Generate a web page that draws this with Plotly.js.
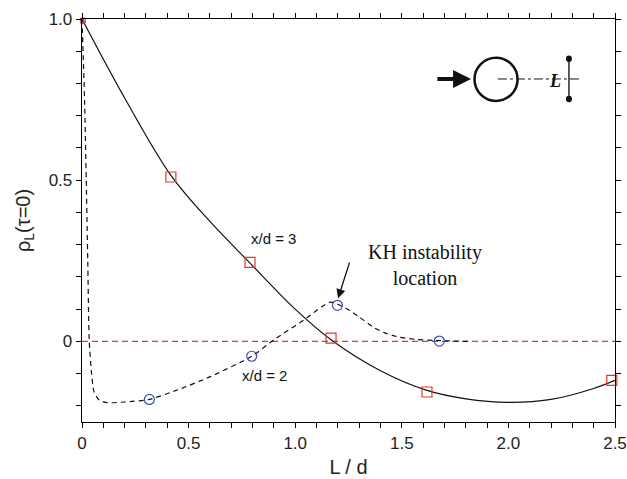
<!DOCTYPE html>
<html>
<head>
<meta charset="utf-8">
<script src="https://cdn.plot.ly/plotly-3.0.1.min.js"></script>
<style>html,body{margin:0;padding:0;background:#fff;}#chart{width:627px;height:479px;}</style>
</head>
<body>
<div id="chart"></div>
<script>
// x/d = 3 : measured points (red squares)
const sq3X = [0.417, 0.788, 1.168, 1.618, 2.485];
const sq3Y = [0.510, 0.245, 0.010, -0.157, -0.121];
// x/d = 2 : measured points (blue circles)
const circ2X = [0.316, 0.796, 1.198, 1.676];
const circ2Y = [-0.180, -0.046, 0.112, 0.001];
// origin point (both series)
const originX = [0.004];
const originY = [0.995];
// x/d = 3 : fitted curve (solid)
const fit3X = [0, 0.2, 0.417, 0.6, 0.788, 1.0, 1.168, 1.4, 1.618, 1.8, 2.0, 2.2, 2.4, 2.5];
const fit3Y = [1.0, 0.755, 0.515, 0.372, 0.243, 0.100, 0.005, -0.091, -0.152, -0.178, -0.189, -0.180, -0.146, -0.121];
// x/d = 2 : fitted curve (dashed)
const fit2X = [0, 0.012, 0.020, 0.027, 0.034, 0.045, 0.056, 0.08, 0.12, 0.20, 0.316, 0.45, 0.60, 0.797, 0.90, 1.04, 1.165, 1.24, 1.30, 1.366, 1.43, 1.49, 1.57, 1.65, 1.81];
const fit2Y = [1.0, 0.75, 0.50, 0.25, 0.0, -0.10, -0.155, -0.182, -0.190, -0.188, -0.180, -0.150, -0.110, -0.046, 0.005, 0.066, 0.122, 0.102, 0.076, 0.044, 0.024, 0.013, 0.006, 0.003, 0.0];
// reference line
const zeroX = [0, 2.5];
const zeroY = [0, 0];
// ticks
const xTickVals = [0,0.1,0.2,0.3,0.4,0.5,0.6,0.7,0.8,0.9,1.0,1.1,1.2,1.3,1.4,1.5,1.6,1.7,1.8,1.9,2.0,2.1,2.2,2.3,2.4,2.5];
const xTickText = ['0','','','','','0.5','','','','','1.0','','','','','1.5','','','','','2.0','','','','','2.5'];
const yTickVals = [-0.2,-0.1,0,0.1,0.2,0.3,0.4,0.5,0.6,0.7,0.8,0.9,1.0];
const yTickText = ['','','0','','','','','0.5','','','','','1.0'];

const RED = '#e0392f';
const BLUE = '#3a4cbc';

const traces = [
  {x: zeroX, y: zeroY, mode: 'lines', line: {color: RED, width: 1.2, dash: '6px,4px'}, hoverinfo: 'skip'},
  {x: fit3X, y: fit3Y, mode: 'lines', line: {color: '#111', width: 1.2, shape: 'spline', smoothing: 1}},
  {x: fit2X, y: fit2Y, mode: 'lines', line: {color: '#111', width: 1.2, dash: '5px,4px', shape: 'spline', smoothing: 0.6}},
  {x: sq3X, y: sq3Y, mode: 'markers', marker: {symbol: 'square-open', size: 10, color: RED, line: {width: 1.2}}, cliponaxis: false},
  {x: circ2X, y: circ2Y, mode: 'markers', marker: {symbol: 'circle-open', size: 10, color: BLUE, line: {width: 1.2}}, cliponaxis: false},
  {x: originX, y: originY, mode: 'markers', marker: {symbol: 'square-open', size: 5, color: RED, line: {width: 1}}, cliponaxis: false},
  {x: originX, y: originY, mode: 'markers', marker: {symbol: 'circle-open', size: 3, color: BLUE, line: {width: 1}}, cliponaxis: false}
];

const axisCommon = {
  showline: true, mirror: 'ticks', linecolor: '#000', linewidth: 1.3,
  ticks: 'outside', ticklen: 5, tickwidth: 1, tickcolor: '#000',
  showgrid: false, zeroline: false,
  tickfont: {family: 'Liberation Sans, Arial, sans-serif', size: 17, color: '#222'},
  tickmode: 'array'
};

const layout = {
  width: 627, height: 479,
  margin: {l: 82, r: 12, t: 19, b: 57},
  paper_bgcolor: '#fff', plot_bgcolor: '#fff',
  showlegend: false,
  xaxis: Object.assign({}, axisCommon, {
    range: [0, 2.5], tickvals: xTickVals, ticktext: xTickText,
    title: {text: 'L / d', font: {family: 'Liberation Sans, Arial, sans-serif', size: 20, color: '#222'}, standoff: 8}
  }),
  yaxis: Object.assign({}, axisCommon, {
    range: [-0.25, 1.0], tickvals: yTickVals, ticktext: yTickText,
    title: {text: 'ρ<sub>L</sub>(τ=0)', font: {family: 'Liberation Sans, Arial, sans-serif', size: 20, color: '#222'}, standoff: 12}
  }),
  annotations: [
    {x: 0.896, y: 0.320, xref: 'x', yref: 'y', text: 'x/d = 3', showarrow: false,
     font: {family: 'Liberation Sans, Arial, sans-serif', size: 15, color: '#111'}},
    {x: 0.858, y: -0.106, xref: 'x', yref: 'y', text: 'x/d = 2', showarrow: false,
     font: {family: 'Liberation Sans, Arial, sans-serif', size: 15, color: '#111'}},
    {x: 1.609, y: 0.236, xref: 'x', yref: 'y', text: 'KH instability<br>location', showarrow: false,
     font: {family: 'Liberation Serif, Times New Roman, serif', size: 20, color: '#111'}},
    {x: 1.201, y: 0.134, xref: 'x', yref: 'y', ax: 1.257, ay: 0.249, axref: 'x', ayref: 'y',
     text: '', showarrow: true, arrowhead: 2, arrowsize: 1.4, arrowwidth: 1.3, arrowcolor: '#111'},
    {x: 1.825, y: 0.814, xref: 'x', yref: 'y', ax: 1.660, ay: 0.814, axref: 'x', ayref: 'y',
     text: '', showarrow: true, arrowhead: 2, arrowsize: 0.9, arrowwidth: 4, arrowcolor: '#111'},
    {x: 2.219, y: 0.808, xref: 'x', yref: 'y', text: '<b><i>L</i></b>', showarrow: false,
     font: {family: 'Liberation Serif, Times New Roman, serif', size: 18, color: '#111'}}
  ],
  shapes: [
    {type: 'circle', xref: 'x', yref: 'y', x0: 1.841, x1: 2.043, y0: 0.746, y1: 0.880,
     line: {color: '#111', width: 2.5}},
    {type: 'line', xref: 'x', yref: 'y', x0: 1.951, x1: 2.341, y0: 0.814, y1: 0.814,
     line: {color: '#111', width: 1, dash: 'dashdot'}},
    {type: 'line', xref: 'x', yref: 'y', x0: 2.284, x1: 2.284, y0: 0.752, y1: 0.877,
     line: {color: '#333', width: 1.6}},
    {type: 'circle', xref: 'x', yref: 'y', x0: 2.270, x1: 2.298, y0: 0.867, y1: 0.887,
     fillcolor: '#111', line: {color: '#111', width: 0}},
    {type: 'circle', xref: 'x', yref: 'y', x0: 2.270, x1: 2.298, y0: 0.742, y1: 0.762,
     fillcolor: '#111', line: {color: '#111', width: 0}}
  ]
};

Plotly.newPlot('chart', traces, layout, {staticPlot: true, displayModeBar: false});
</script>
</body>
</html>
